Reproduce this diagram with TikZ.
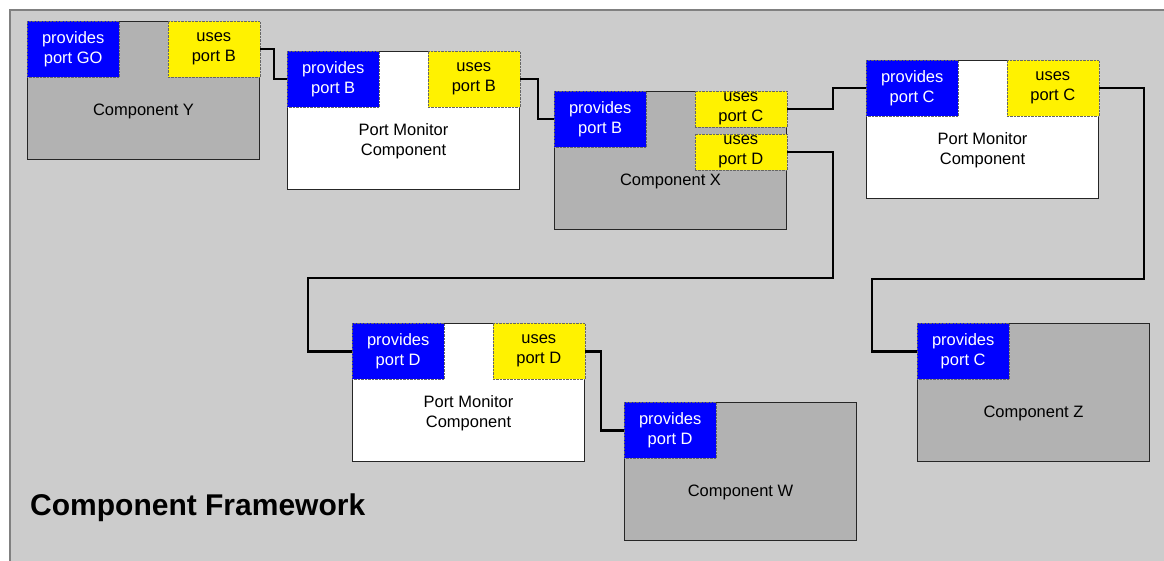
\documentclass[tikz,border=0pt]{standalone}
\usepackage{fontspec}
\setmainfont{Liberation Sans}
\usetikzlibrary{positioning}
\definecolor{framegray}{RGB}{204,204,204}
\definecolor{compgray}{RGB}{178,178,178}
\definecolor{edgegray}{RGB}{128,128,128}

\begin{document}
\begin{tikzpicture}[x=1pt, y=1pt, font=\fontsize{16.5}{20}\selectfont,
    comp/.style={draw=black!85, line width=1, fill=compgray, minimum width=232, minimum height=138, anchor=north west, inner sep=0},
    monitor/.style={comp, fill=white},
    prov/.style={draw=black!60, densely dotted, fill=blue, text=white, minimum width=92, minimum height=56, anchor=north west, align=center, inner sep=0},
    uses/.style={prov, fill=yellow, text=black, anchor=north east},
    wire/.style={line width=2.6, black}]
    \useasboundingbox (0,0) rectangle (1164,-561);
    \fill[framegray] (10,-10) rectangle (1164,-561);
    \draw[edgegray, line width=1.5] (10,-561) -- (10,-10) -- (1164,-10);
    % components
    \node[comp] (Y) at (27,-21) {};
    \node[monitor] (PMB) at (287,-51) {};
    \node[comp] (X) at (554,-91) {};
    \node[monitor] (PMC) at (866,-60) {};
    \node[monitor] (PMD) at (352,-323) {};
    \node[comp] (W) at (624,-402) {};
    \node[comp] (Z) at (917,-323) {};
    \node (Ytxt) at ([yshift=-21]Y.center) {Component Y};
    \node[align=center] (PMBtxt) at ([yshift=-21]PMB.center) {Port Monitor\\Component};
    \node (Xtxt) at ([yshift=-21]X.center) {Component X};
    \node[align=center] (PMCtxt) at ([yshift=-21]PMC.center) {Port Monitor\\Component};
    \node[align=center] (PMDtxt) at ([yshift=-21]PMD.center) {Port Monitor\\Component};
    \node (Wtxt) at ([yshift=-21]W.center) {Component W};
    \node (Ztxt) at ([yshift=-21]Z.center) {Component Z};
    % ports
    \node[prov] (Yp) at (Y.north west) {provides\\port GO};
    \node[uses] (Yu) at (Y.north east) {uses\\port B};
    \node[prov] (PMBp) at (PMB.north west) {provides\\port B};
    \node[uses] (PMBu) at (PMB.north east) {uses\\port B};
    \node[prov] (Xp) at (X.north west) {provides\\port B};
    \node[uses, minimum height=36] (XuC) at (X.north east) {uses\\port C};
    \node[uses, minimum height=36] (XuD) at ([yshift=-43]X.north east) {uses\\port D};
    \node[prov] (PMCp) at (PMC.north west) {provides\\port C};
    \node[uses] (PMCu) at (PMC.north east) {uses\\port C};
    \node[prov] (PMDp) at (PMD.north west) {provides\\port D};
    \node[uses] (PMDu) at (PMD.north east) {uses\\port D};
    \node[prov] (Wp) at (W.north west) {provides\\port D};
    \node[prov] (Zp) at (Z.north west) {provides\\port C};
    % wires
    \draw[wire] (Yu.east) -- ++(14,0) |- (PMBp.west);
    \draw[wire] (PMBu.east) -- ++(18,0) |- (Xp.west);
    \draw[wire] (XuC.east) -- ++(46,0) |- (PMCp.west);
    \draw[wire] (XuD.east) -- ++(46,0) -- ++(0,-126) -| ([xshift=-44]PMDp.west) -- (PMDp.west);
    \draw[wire] (PMCu.east) -- ++(45,0) -- ++(0,-191) -| ([xshift=-45]Zp.west) -- (Zp.west);
    \draw[wire] (PMDu.east) -- ++(16,0) |- (Wp.west);
    \node[font=\bfseries\fontsize{30}{34}\selectfont, anchor=base west, inner sep=0] (title) at (30,-515) {Component Framework};
\end{tikzpicture}
\end{document}
